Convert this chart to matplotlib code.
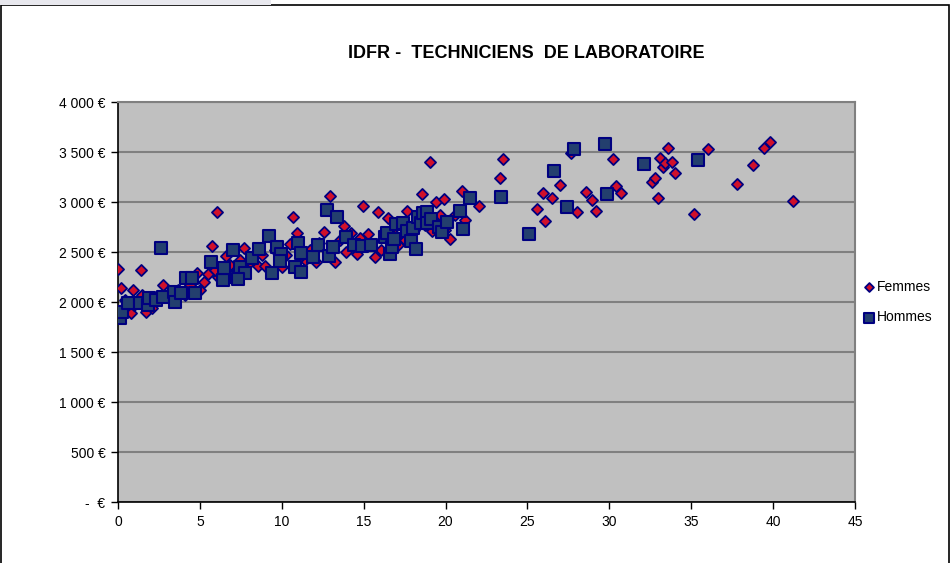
import matplotlib
matplotlib.use("Agg")
import matplotlib.pyplot as plt
from matplotlib.patches import Rectangle
from matplotlib.ticker import FuncFormatter

plt.rcParams['font.family'] = ['Liberation Sans', 'DejaVu Sans']

title = "IDFR -  TECHNICIENS  DE LABORATOIRE"

femmes_x = [0.0, 0.2, 1.4, 0.9, 0.8, 1.7, 1.45, 0.4, 1.0, 2.1, 2.45, 2.75, 3.2, 3.65, 4.4,
            4.8, 5.25, 5.5, 5.75, 6.05, 6.6, 7.0, 6.1, 7.7, 7.45, 8.55, 9.0, 10.0, 10.5, 10.7,
            10.9, 10.25, 11.4, 12.1, 12.6, 12.95, 13.25, 13.8, 13.9, 14.2, 14.6, 14.95, 15.25,
            15.7, 15.9, 16.05, 16.5, 17.1, 17.65, 18.55, 19.05, 19.2, 19.4, 19.9, 20.3, 20.6,
            21.0, 22.05, 23.3, 23.5, 25.6, 25.95, 26.1, 26.5, 27.0, 27.65, 28.0, 28.6, 28.95,
            29.2, 30.2, 30.4, 30.7, 32.6, 32.8, 33.0, 33.1, 33.3, 33.4, 33.6, 33.8, 34.0, 35.2,
            36.0, 37.8, 38.8, 39.45, 39.8, 41.2,
            1.95, 4.1, 5.0, 5.9, 6.85, 8.05, 8.8, 9.6, 11.1, 11.7, 12.3, 13.55, 14.8, 16.9,
            17.5, 18.1, 18.75, 19.65, 19.95, 21.2]
femmes_y = [2330, 2140, 2320, 2120, 1890, 1900, 2070, 2020, 1970, 1940, 2020, 2170, 2100, 2120, 2170,
            2290, 2200, 2280, 2560, 2900, 2460, 2530, 2250, 2540, 2420, 2360, 2360, 2350, 2580, 2850,
            2690, 2470, 2420, 2400, 2700, 3060, 2400, 2760, 2500, 2690, 2480, 2960, 2680,
            2450, 2900, 2520, 2840, 2570, 2910, 3080, 3400, 2710, 3000, 3030, 2630, 2870,
            3110, 2960, 3240, 3430, 2930, 3090, 2810, 3040, 3170, 3490, 2900, 3100, 3020,
            2910, 3430, 3160, 3090, 3200, 3240, 3040, 3440, 3350, 3390, 3540, 3400, 3290, 2880,
            3530, 3180, 3370, 3540, 3600, 3010,
            2020, 2070, 2120, 2320, 2370, 2400, 2470, 2520, 2450, 2520, 2590, 2620, 2640, 2670,
            2620, 2720, 2770, 2870, 2720, 2820]

hommes_x = [0.0, 0.12, 0.25, 0.6, 1.35, 1.8, 1.9, 2.3, 2.6, 2.75, 3.4, 3.5, 3.85, 4.15, 4.5,
            4.7, 5.7, 6.4, 6.5, 7.0, 7.2, 7.45, 7.75, 7.3, 8.2, 8.6, 9.2, 9.4, 9.7, 9.95,
            9.9, 10.8, 11.0, 11.2, 11.2, 11.9, 12.2, 12.75, 12.9, 13.1, 13.4, 13.9, 14.4, 14.9,
            15.45, 16.3, 16.4, 16.6, 16.7, 16.85, 17.0, 17.4, 17.65, 17.9, 18.0, 18.2, 18.3,
            18.5, 18.6, 18.85, 18.85, 19.1, 19.6, 19.8, 20.1, 20.9, 21.05, 21.5, 23.4, 25.1,
            26.6, 27.4, 27.85, 29.75, 29.85, 32.1, 35.4]
hommes_y = [1870, 1840, 1900, 1990, 1990, 1970, 2040, 2020, 2540, 2050, 2100, 2000, 2090, 2240, 2240,
            2090, 2400, 2220, 2340, 2520, 2250, 2350, 2290, 2230, 2440, 2530, 2660, 2290, 2550, 2480,
            2410, 2350, 2590, 2300, 2490, 2450, 2570, 2920, 2460, 2550, 2850, 2650, 2570, 2560,
            2570, 2650, 2690, 2480, 2550, 2630, 2780, 2790, 2710, 2610, 2740, 2530, 2850,
            2790, 2890, 2900, 2790, 2830, 2750, 2700, 2800, 2910, 2730, 3040, 3050, 2680,
            3310, 2950, 3530, 3580, 3080, 3380, 3420]

x_ticks = [0, 5, 10, 15, 20, 25, 30, 35, 40, 45]
y_ticks = [0, 500, 1000, 1500, 2000, 2500, 3000, 3500, 4000]


def euro(v, pos):
    if v == 0:
        return "-  €"
    s = f"{int(v):,}".replace(",", " ")
    return s + " €"


fig = plt.figure(figsize=(9.52, 5.63), dpi=100)
fig.patches.append(Rectangle((0.001, -0.02), 0.996, 1.011, transform=fig.transFigure,
                             fill=False, edgecolor='black', linewidth=1.2))
fig.patches.append(Rectangle((0.0, 0.991), 0.285, 0.009, transform=fig.transFigure,
                             facecolor='#e8e8ee', edgecolor='none'))

ax = fig.add_axes([0.124, 0.1083, 0.774, 0.7105])
ax.set_facecolor('#C0C0C0')

ax.scatter(femmes_x, femmes_y, marker='D', s=32, facecolor='#D0102A', edgecolor='#000080',
           linewidth=1.3, zorder=3, label='Femmes')
ax.scatter(hommes_x, hommes_y, marker='s', s=85, facecolor='#233F6E', edgecolor='#000080',
           linewidth=1.5, zorder=4, label='Hommes')

ax.set_xlim(0, 45)
ax.set_ylim(0, 4000)
ax.set_xticks(x_ticks)
ax.set_yticks(y_ticks)
ax.yaxis.set_major_formatter(FuncFormatter(euro))
ax.grid(axis='y', color='#808080', linewidth=1.5, zorder=1)
ax.set_axisbelow(True)

for side in ['top', 'right']:
    ax.spines[side].set_color('#808080')
    ax.spines[side].set_linewidth(1.5)
for side in ['left', 'bottom']:
    ax.spines[side].set_color('black')
    ax.spines[side].set_linewidth(1.2)

ax.tick_params(axis='both', direction='out', length=5, width=1, labelsize=10, colors='black', pad=4)

fig.text(0.553, 0.905, title, ha='center', va='center', fontsize=13, fontweight='bold')

leg = ax.legend(loc='center left', bbox_to_anchor=(1.0, 0.5), frameon=False, fontsize=10,
                handletextpad=0.1, labelspacing=1.2, borderpad=0, handlelength=1.0,
                markerscale=0.8)

fig.savefig('out.png', dpi=100)
